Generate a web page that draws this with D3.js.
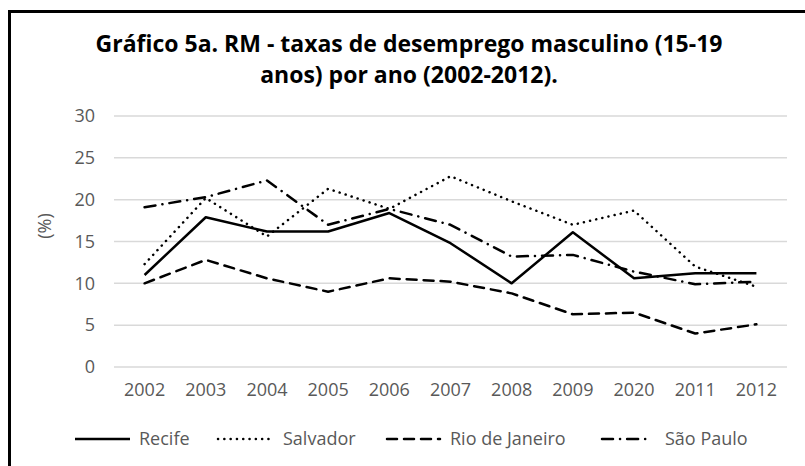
<!DOCTYPE html>
<html>
<head>
<meta charset="utf-8">
<script src="https://cdn.jsdelivr.net/npm/d3@7"></script>
<style>
  body { margin: 0; background: #fff; }
  svg { display: block; font-family: "Open Sans", sans-serif; }
</style>
</head>
<body>
<svg id="chart" width="805" height="466"></svg>
<script>
// categories as printed on the chart (the "2020" typo is in the original)
var years = ["2002", "2003", "2004", "2005", "2006", "2007", "2008", "2009", "2020", "2011", "2012"];
var yTicks = [0, 5, 10, 15, 20, 25, 30];

var recife    = [11.0, 17.9, 16.2, 16.2, 18.4, 14.8, 10.0, 16.1, 10.6, 11.2, 11.2];
var salvador  = [12.3, 20.2, 15.6, 21.3, 18.9, 22.8, 19.8, 17.0, 18.7, 12.0, 9.6];
var rio       = [10.0, 12.8, 10.6, 9.0, 10.6, 10.2, 8.8, 6.3, 6.5, 4.0, 5.1];
var saoPaulo  = [19.1, 20.3, 22.3, 17.0, 18.9, 17.0, 13.2, 13.4, 11.4, 9.9, 10.2];

var series = [
    {name: "Recife", values: recife, dash: null},
    {name: "Salvador", values: salvador, dash: "0.1 6.2"},
    {name: "Rio de Janeiro", values: rio, dash: "10 7"},
    {name: "São Paulo", values: saoPaulo, dash: "11 7 0.1 7"}
];

var svg = d3.select("#chart");

var plot = {left: 114, right: 787, top: 116, bottom: 367};

var x = d3.scaleBand()
    .domain(years)
    .range([plot.left, plot.right]);

var y = d3.scaleLinear()
    .domain([0, 30])
    .range([plot.bottom, plot.top]);

// outer frame (only left and top edges fall inside the picture)
svg.append("path")
    .attr("d", "M9.5,470 L9.5,11.5 L810,11.5")
    .attr("fill", "none")
    .attr("stroke", "#000")
    .attr("stroke-width", 3);

// title
var title = svg.append("text")
    .attr("text-anchor", "middle")
    .attr("font-weight", "bold")
    .attr("font-size", 23)
    .attr("fill", "#000");
title.append("tspan").attr("x", 409).attr("y", 52)
    .text("Gráfico 5a. RM - taxas de desemprego masculino (15-19");
title.append("tspan").attr("x", 409).attr("y", 83)
    .text("anos) por ano (2002-2012).");

// gridlines
svg.append("g")
    .selectAll("line")
    .data(yTicks)
    .join("line")
    .attr("x1", plot.left)
    .attr("x2", plot.right)
    .attr("y1", function (d) { return y(d); })
    .attr("y2", function (d) { return y(d); })
    .attr("stroke", "#d9d9d9")
    .attr("stroke-width", 1.5);

// y axis labels
var yAxis = svg.append("g")
    .attr("transform", "translate(" + (plot.left - 19) + ",0)")
    .call(d3.axisLeft(y).tickValues(yTicks).tickSize(0).tickPadding(0));
yAxis.select(".domain").remove();
yAxis.selectAll("text")
    .attr("font-family", "Open Sans")
    .attr("font-size", 18)
    .attr("fill", "#595959");

// x axis labels
var xAxis = svg.append("g")
    .attr("transform", "translate(0," + (plot.bottom + 16) + ")")
    .call(d3.axisBottom(x).tickSize(0).tickPadding(0));
xAxis.select(".domain").remove();
xAxis.selectAll("text")
    .attr("font-family", "Open Sans")
    .attr("font-size", 18)
    .attr("fill", "#595959");

// y axis title
svg.append("text")
    .attr("transform", "translate(51,226) rotate(-90)")
    .attr("text-anchor", "middle")
    .attr("font-size", 18)
    .attr("fill", "#595959")
    .text("(%)");

// lines
var line = d3.line()
    .x(function (d, i) { return x(years[i]) + x.bandwidth() / 2; })
    .y(function (d) { return y(d); });

svg.append("g")
    .selectAll("path")
    .data(series)
    .join("path")
    .attr("d", function (s) { return line(s.values); })
    .attr("fill", "none")
    .attr("stroke", "#000")
    .attr("stroke-width", 2.5)
    .attr("stroke-linecap", function (s) { return s.dash ? "round" : "butt"; })
    .attr("stroke-linejoin", "round")
    .attr("stroke-dasharray", function (s) { return s.dash; });

// legend
var legendItems = [
    {x1: 75, x2: 130, tx: 139},
    {x1: 218, x2: 272, tx: 283},
    {x1: 387, x2: 440, tx: 450},
    {x1: 602, x2: 650, tx: 665}
];
var legendY = 439;

var legend = svg.append("g")
    .selectAll("g")
    .data(series)
    .join("g");

legend.append("line")
    .attr("x1", function (s, i) { return legendItems[i].x1; })
    .attr("x2", function (s, i) { return legendItems[i].x2; })
    .attr("y1", legendY)
    .attr("y2", legendY)
    .attr("stroke", "#000")
    .attr("stroke-width", 2.5)
    .attr("stroke-linecap", function (s) { return s.dash ? "round" : "butt"; })
    .attr("stroke-dasharray", function (s) { return s.dash; });

legend.append("text")
    .attr("x", function (s, i) { return legendItems[i].tx; })
    .attr("y", legendY)
    .attr("dy", "0.35em")
    .attr("font-size", 18)
    .attr("fill", "#595959")
    .text(function (s) { return s.name; });
</script>
</body>
</html>
